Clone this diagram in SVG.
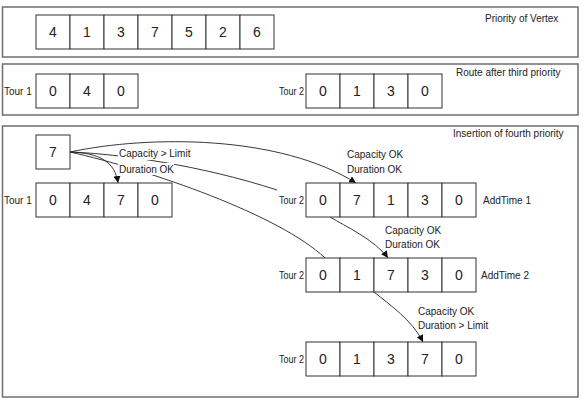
<svg xmlns="http://www.w3.org/2000/svg" width="583" height="404" viewBox="0 0 583 404">
<style>
.panel{fill:#fff;stroke:#6e6e6e;stroke-width:1.5}
.cell{fill:#fff;stroke:#333;stroke-width:1}
.num{font-family:"Liberation Sans",Arial,sans-serif;font-size:14px;fill:#222;text-anchor:middle}
.lbl{font-family:"Liberation Sans",Arial,sans-serif;font-size:10px;fill:#222}
.conn{fill:none;stroke:#222;stroke-width:0.9}
.bg{fill:#fff;stroke:none}
</style>
<defs>
<marker id="arr" viewBox="0 0 10 10" refX="10" refY="5" markerWidth="7" markerHeight="7" markerUnits="userSpaceOnUse" orient="auto">
<path d="M0,0 L10,5 L0,10 z" fill="#111"/>
</marker>
</defs>
<g id="panel-priority">
<rect class="panel" x="2.5" y="7" width="575.5" height="50"/>
<text class="lbl" x="485" y="22">Priority of Vertex</text>
</g>
<g id="panel-route">
<rect class="panel" x="2.5" y="64" width="575.5" height="51"/>
<text class="lbl" x="456" y="76">Route after third priority</text>
</g>
<g id="panel-insertion">
<rect class="panel" x="2.5" y="126" width="575.5" height="271"/>
<text class="lbl" x="453" y="137">Insertion of fourth priority</text>
</g>
<g id="priority-list">
<rect class="cell" x="36" y="15" width="34" height="34"/><text class="num" x="53" y="37">4</text>
<rect class="cell" x="70" y="15" width="34" height="34"/><text class="num" x="87" y="37">1</text>
<rect class="cell" x="104" y="15" width="34" height="34"/><text class="num" x="121" y="37">3</text>
<rect class="cell" x="138" y="15" width="34" height="34"/><text class="num" x="155" y="37">7</text>
<rect class="cell" x="172" y="15" width="34" height="34"/><text class="num" x="189" y="37">5</text>
<rect class="cell" x="206" y="15" width="34" height="34"/><text class="num" x="223" y="37">2</text>
<rect class="cell" x="240" y="15" width="34" height="34"/><text class="num" x="257" y="37">6</text>
</g>
<g id="route-tour1">
<text class="lbl" x="4" y="95">Tour 1</text>
<rect class="cell" x="36" y="74" width="34" height="34"/><text class="num" x="53" y="96">0</text>
<rect class="cell" x="70" y="74" width="34" height="34"/><text class="num" x="87" y="96">4</text>
<rect class="cell" x="104" y="74" width="34" height="34"/><text class="num" x="121" y="96">0</text>
</g>
<g id="route-tour2">
<text class="lbl" x="279" y="95" textLength="25" lengthAdjust="spacingAndGlyphs">Tour 2</text>
<rect class="cell" x="306" y="74" width="34" height="34"/><text class="num" x="323" y="96">0</text>
<rect class="cell" x="340" y="74" width="34" height="34"/><text class="num" x="357" y="96">1</text>
<rect class="cell" x="374" y="74" width="34" height="34"/><text class="num" x="391" y="96">3</text>
<rect class="cell" x="408" y="74" width="34" height="34"/><text class="num" x="425" y="96">0</text>
</g>
<g id="connectors">
<path class="conn" d="M70,152 C150,135 280,135 356,183" marker-end="url(#arr)"/>
<path class="conn" d="M70,152 C120,154 200,165 277,190"/>
<path class="conn" d="M70,152 C150,170 280,215 325,258"/>
<path class="conn" d="M70,152 C100,153 115,162 118,183" marker-end="url(#arr)"/>
<path class="conn" d="M330,217 C345,226 375,240 388,258" marker-end="url(#arr)"/>
<path class="conn" d="M374,292 C390,305 412,320 423,342" marker-end="url(#arr)"/>
</g>
<g id="vertex-7">
<rect class="cell" x="36" y="135" width="34" height="34"/><text class="num" x="53" y="157">7</text>
</g>
<g id="label-tour1-check">
<rect class="bg" x="118" y="148" width="73" height="12"/>
<rect class="bg" x="118" y="163" width="56" height="12"/>
<text class="lbl" x="119" y="157">Capacity &gt; Limit</text>
<text class="lbl" x="119" y="173">Duration OK</text>
</g>
<g id="tour1-insert">
<text class="lbl" x="4" y="204">Tour 1</text>
<rect class="cell" x="36" y="183" width="34" height="34"/><text class="num" x="53" y="205">0</text>
<rect class="cell" x="70" y="183" width="34" height="34"/><text class="num" x="87" y="205">4</text>
<rect class="cell" x="104" y="183" width="34" height="34"/><text class="num" x="121" y="205">7</text>
<rect class="cell" x="138" y="183" width="34" height="34"/><text class="num" x="155" y="205">0</text>
</g>
<g id="label-addtime1-check">
<text class="lbl" x="347" y="158">Capacity OK</text>
<text class="lbl" x="347" y="173">Duration OK</text>
</g>
<g id="tour2-addtime1">
<text class="lbl" x="279" y="204" textLength="25" lengthAdjust="spacingAndGlyphs">Tour 2</text>
<rect class="cell" x="306" y="183" width="34" height="34"/><text class="num" x="323" y="205">0</text>
<rect class="cell" x="340" y="183" width="34" height="34"/><text class="num" x="357" y="205">7</text>
<rect class="cell" x="374" y="183" width="34" height="34"/><text class="num" x="391" y="205">1</text>
<rect class="cell" x="408" y="183" width="34" height="34"/><text class="num" x="425" y="205">3</text>
<rect class="cell" x="442" y="183" width="34" height="34"/><text class="num" x="459" y="205">0</text>
<text class="lbl" x="483" y="204">AddTime 1</text>
</g>
<g id="label-addtime2-check">
<text class="lbl" x="385" y="234">Capacity OK</text>
<text class="lbl" x="385" y="248">Duration OK</text>
</g>
<g id="tour2-addtime2">
<text class="lbl" x="279" y="279" textLength="25" lengthAdjust="spacingAndGlyphs">Tour 2</text>
<rect class="cell" x="306" y="258" width="34" height="34"/><text class="num" x="323" y="280">0</text>
<rect class="cell" x="340" y="258" width="34" height="34"/><text class="num" x="357" y="280">1</text>
<rect class="cell" x="374" y="258" width="34" height="34"/><text class="num" x="391" y="280">7</text>
<rect class="cell" x="408" y="258" width="34" height="34"/><text class="num" x="425" y="280">3</text>
<rect class="cell" x="442" y="258" width="34" height="34"/><text class="num" x="459" y="280">0</text>
<text class="lbl" x="481" y="279">AddTime 2</text>
</g>
<g id="label-final-check">
<text class="lbl" x="418" y="315">Capacity OK</text>
<text class="lbl" x="418" y="329">Duration &gt; Limit</text>
</g>
<g id="tour2-final">
<text class="lbl" x="279" y="363" textLength="25" lengthAdjust="spacingAndGlyphs">Tour 2</text>
<rect class="cell" x="306" y="342" width="34" height="34"/><text class="num" x="323" y="364">0</text>
<rect class="cell" x="340" y="342" width="34" height="34"/><text class="num" x="357" y="364">1</text>
<rect class="cell" x="374" y="342" width="34" height="34"/><text class="num" x="391" y="364">3</text>
<rect class="cell" x="408" y="342" width="34" height="34"/><text class="num" x="425" y="364">7</text>
<rect class="cell" x="442" y="342" width="34" height="34"/><text class="num" x="459" y="364">0</text>
</g>
</svg>
